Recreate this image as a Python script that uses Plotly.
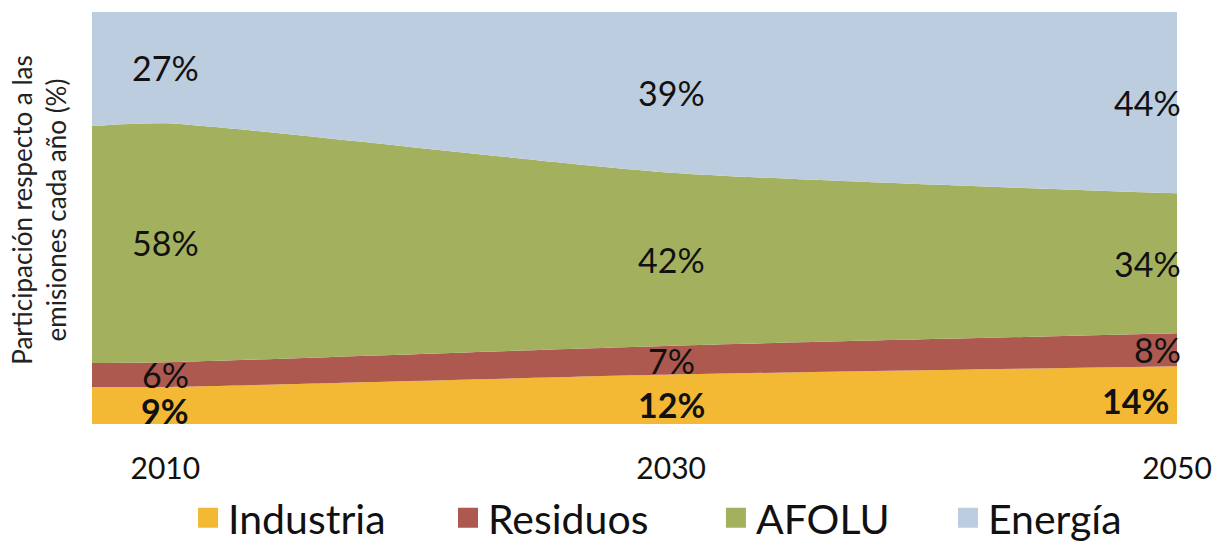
import plotly.graph_objects as go

# Data (percent share of emissions each year)
years = [2007, 2010, 2030, 2050]          # 2007: left edge of the drawn area
tick_years = [2010, 2030, 2050]
tick_labels = ["2010", "2030", "2050"]
series_names = ["Industria", "Residuos", "AFOLU", "Energía"]
industria = [9.0, 9, 12, 14]
residuos = [5.8, 6, 7, 8]
afolu = [57.5, 58, 42, 34]
energia = [27.7, 27, 39, 44]
label_years = [2010, 2030, 2050]

colors = ["#F3B934", "#AD5950", "#A3B15F", "#BDCDE0"]
series = [industria, residuos, afolu, energia]
FONT = "Lato"

fig = go.Figure()
for name, vals, col in zip(series_names, series, colors):
    fig.add_trace(go.Scatter(
        x=years, y=vals, name=name, stackgroup="one", mode="lines",
        line=dict(width=0, shape="spline", smoothing=0.6, color=col),
        fillcolor=col, showlegend=False, hoverinfo="skip"))

# Legend entries (separate legends for precise placement)
legend_x = [0.1544, 0.3678, 0.5878, 0.7783]
for i, (name, col) in enumerate(zip(series_names, colors)):
    lg = "legend" if i == 0 else f"legend{i+1}"
    fig.add_trace(go.Scatter(
        x=[None], y=[None], name=name, mode="markers",
        marker=dict(symbol="square", size=16, color=col,
                    line=dict(width=4, color=col)),
        showlegend=True, legend=lg))

# Data labels at the middle of each band
annotations = []
for j, yr in enumerate(label_years):
    idx = years.index(yr)
    cum = 0
    for k, vals in enumerate(series):
        v = vals[idx]
        mid = cum + v / 2
        cum += v
        a = dict(x=yr, y=mid, xref="x", yref="y", text=f"{v:.0f}%",
                 showarrow=False,
                 font=dict(family=FONT, size=34, color="#111111"))
        if k == 0:
            a["text"] = f"<b>{v:.0f}%</b>"
            a["yshift"] = -5
        if yr == 2050:
            a["xanchor"] = "right"
            a["xshift"] = 6 if k > 0 else -6
        annotations.append(a)

annotations.append(dict(
    text="Participación respecto a las<br>emisiones cada año (%)",
    xref="paper", yref="paper", x=0, y=0.52, xshift=-53,
    xanchor="center", yanchor="middle", textangle=-90, showarrow=False,
    font=dict(family=FONT, size=26, color="#222222")))

layout_legends = {}
for i, lx in enumerate(legend_x):
    key = "legend" if i == 0 else f"legend{i+1}"
    layout_legends[key] = dict(
        x=lx, y=0.044, xref="container", yref="container",
        xanchor="left", yanchor="middle",
        orientation="h", bgcolor="rgba(0,0,0,0)",
        font=dict(family=FONT, size=41, color="#111111"),
        itemsizing="trace")

fig.update_layout(
    width=1218, height=542, autosize=False,
    margin=dict(l=92, r=41, t=12, b=118, autoexpand=False),
    paper_bgcolor="white", plot_bgcolor="white",
    font=dict(family=FONT, color="#111111"),
    xaxis=dict(range=[2007.1, 2050], tickvals=tick_years, ticktext=tick_labels,
               showgrid=False, zeroline=False, showline=False, ticks="",
               ticklabelstandoff=24, automargin=False,
               tickfont=dict(family=FONT, size=30, color="#111111")),
    yaxis=dict(range=[0, 100], showgrid=False, zeroline=False, automargin=False,
               showticklabels=False, showline=False, ticks=""),
    annotations=annotations,
    **layout_legends,
)

fig.write_html(
    "out.html",
    config={"responsive": False, "displayModeBar": False},
    post_script="document.body.style.margin='0';document.body.style.overflow='hidden';",
)
